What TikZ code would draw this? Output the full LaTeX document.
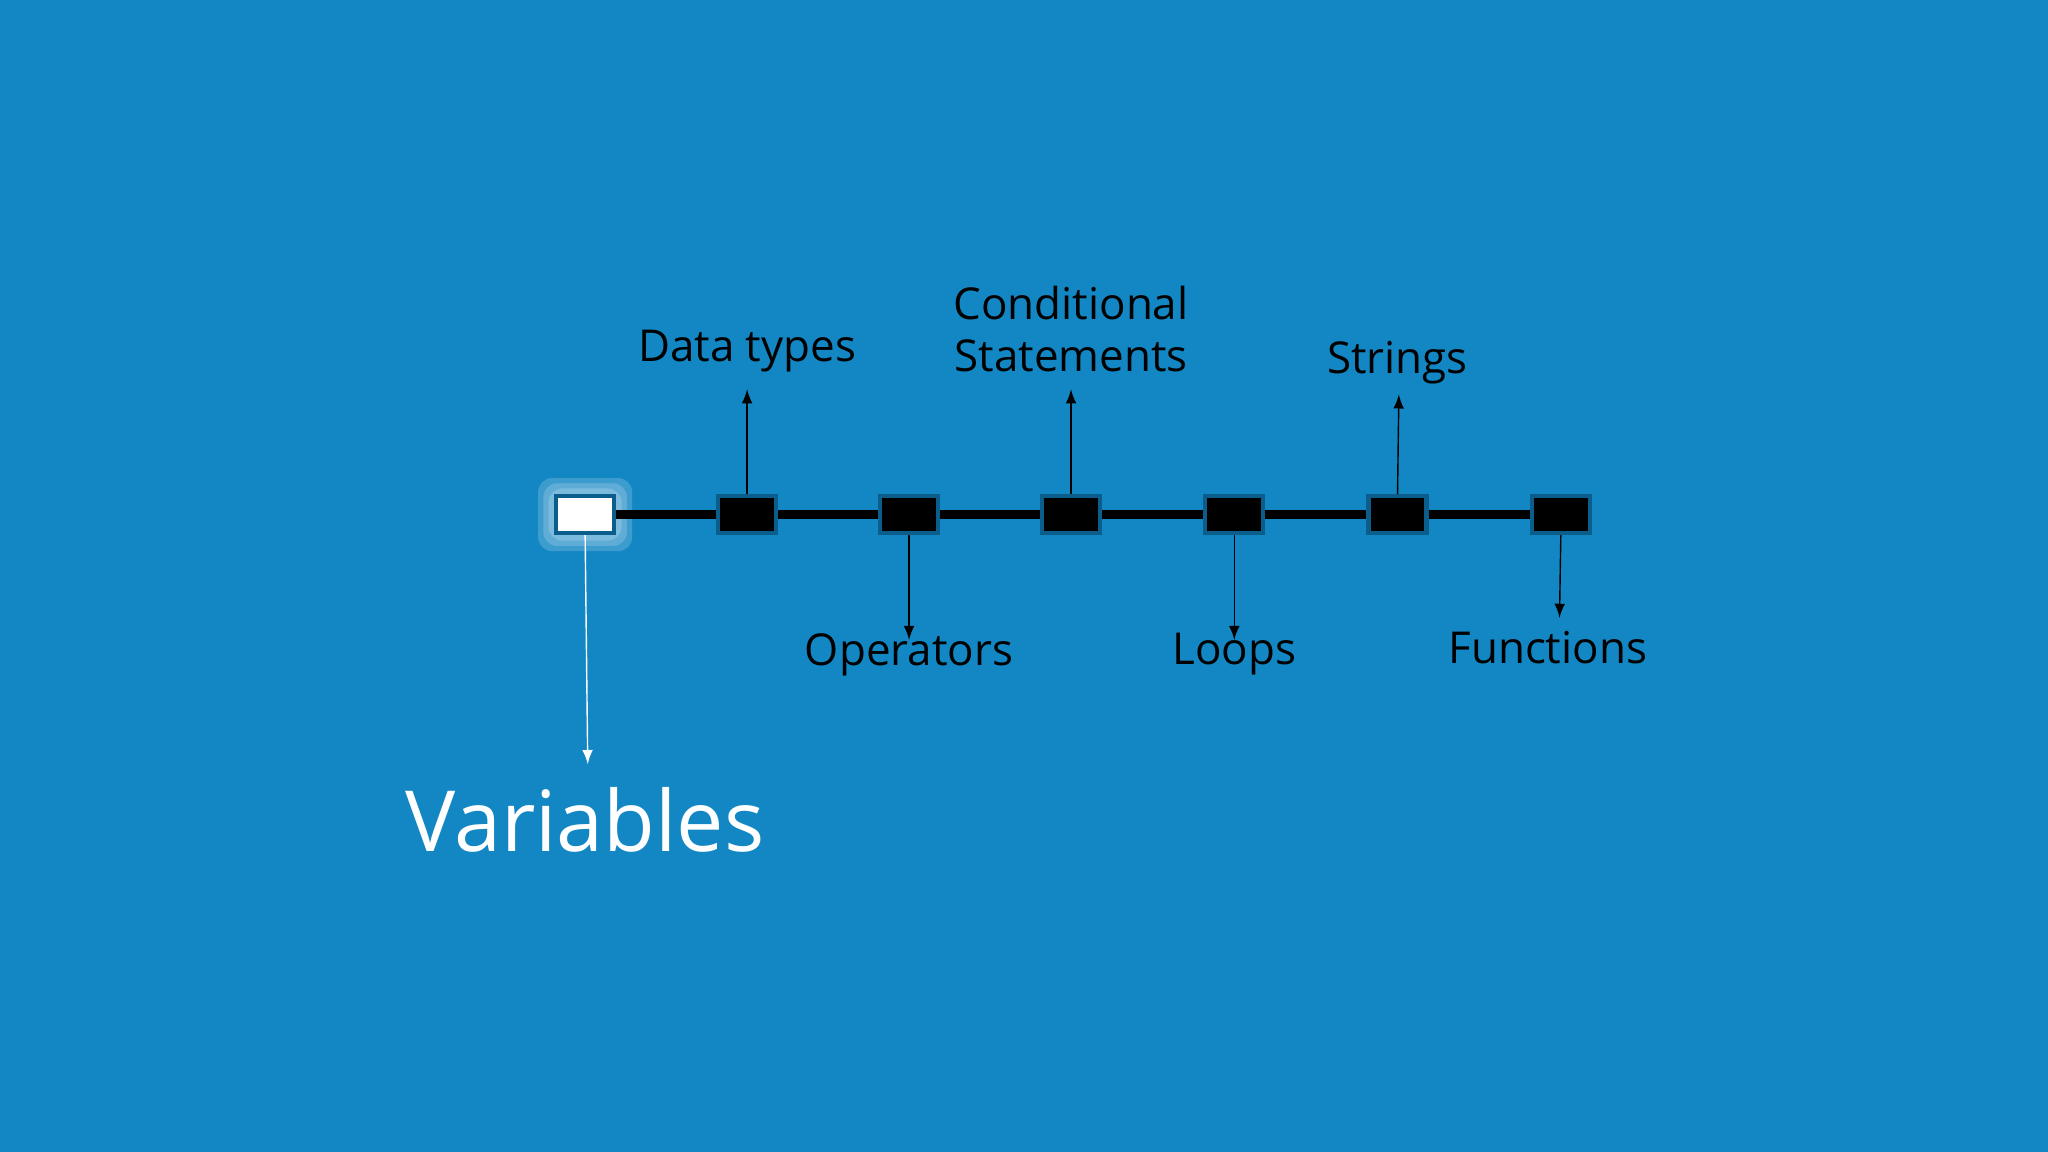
\documentclass[tikz,border=0pt]{standalone}
\usepackage{fontspec}
\setmainfont{Open Sans}
\usetikzlibrary{arrows}
\definecolor{bgblue}{HTML}{1387C4}
\definecolor{boxblue}{HTML}{0B5E8C}
\tikzset{
  topic/.style={draw=boxblue,line width=1.2pt,fill=black,minimum width=0.58cm,minimum height=0.37cm,inner sep=0pt},
  lbl/.style={font=\fontsize{12.5}{15}\selectfont,align=center,inner sep=0pt},
  tip/.style={-latex,thin,black}
}
\begin{document}
\begin{tikzpicture}[x=0.01306cm,y=-0.01306cm]
\fill[bgblue] (0,0) rectangle (1568,882);
\useasboundingbox (0,0) rectangle (1568,882);
% glow round the first box
\foreach \g in {14,10,6} \fill[white,opacity=0.18,rounded corners=4] (448-22-\g,394-14-\g) rectangle (448+22+\g,394+14+\g);
\draw[line width=2.5pt,black] (448,394) -- (1195,394);
\node (b1) [topic,fill=white,draw=boxblue] at (448,394) {};
\draw (572,394) node (b2) [topic] {};
\draw (696,394) node (b3) [topic] {};
\draw (820,394) node (b4) [topic] {};
\draw (945,394) node (b5) [topic] {};
\draw (1070,394) node (b6) [topic] {};
\draw (1195,394) node (b7) [topic] {};

\draw (572,269) node (l2) [lbl] {Data types};
\draw (696,501) node (l3) [lbl] {Operators};
\draw (820,252) node (l4) [lbl] {Conditional\\Statements};
\draw (945,501) node (l5) [lbl] {Loops};
\draw (1070,278) node (l6) [lbl] {Strings};
\draw (1185,496) node (l7) [lbl] {Functions};
\draw (448,628) node (l1) [lbl,white,font=\fontsize{24}{28}\selectfont] {Variables};

\coordinate (e1) at (450,585);
\coordinate (e2) at (572,298);
\coordinate (e3) at (696,490);
\coordinate (e4) at (820,298);
\coordinate (e5) at (945,490);
\coordinate (e6) at (1071,302);
\coordinate (e7) at (1194,473);
\draw[tip,white] (b1.south) -- (e1);
\draw[tip] (b2.north) -- (e2);
\draw[tip] (b3.south) -- (e3);
\draw[tip] (b4.north) -- (e4);
\draw[tip] (b5.south) -- (e5);
\draw[tip] (b6.north) -- (e6);
\draw[tip] (b7.south) -- (e7);
\end{tikzpicture}
\end{document}
